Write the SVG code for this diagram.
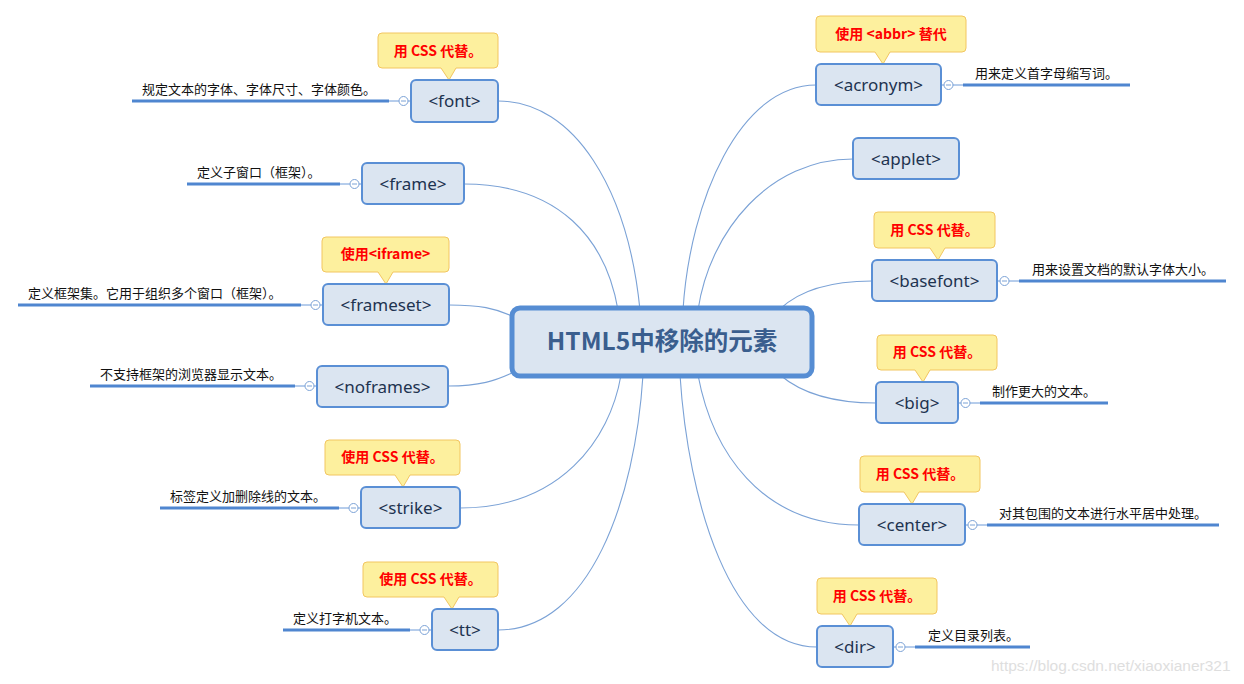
<svg xmlns="http://www.w3.org/2000/svg" width="1244" height="684" viewBox="0 0 1244 684">
<defs>
<style>
.conn{fill:none;stroke:#7ba2d6;stroke-width:1.1}
.node rect.box{fill:#dbe5f1;stroke:#5a8fd5;stroke-width:2}
.ntext{font-family:"Noto Sans","Noto Sans CJK SC",sans-serif;font-size:17px;fill:#1e3350;text-anchor:middle}
.call{fill:#fdf09e;stroke:#f2c661;stroke-width:1}
.ctext{font-family:"Noto Sans CJK SC",sans-serif;font-size:14px;font-weight:bold;fill:#ff0000;text-anchor:middle}
.lbl{font-family:"Noto Sans CJK SC",sans-serif;font-size:13px;fill:#111}
.uline{stroke:#4f86d0;stroke-width:3}
.thin{stroke:#6d9ad8;stroke-width:1}
.knob{fill:#fff;stroke:#7ba2d6;stroke-width:1}
.minus{stroke:#7ba2d6;stroke-width:1}
</style>
</defs>
<rect width="1244" height="684" fill="#ffffff"/>

<g id="connectors">
<path class="conn" d="M498,101 C575,101 628,190 640,310"/>
<path class="conn" d="M464,184 C560,184 606,240 618,310"/>
<path class="conn" d="M449,305 C480,305 495,308 514,317"/>
<path class="conn" d="M448,386 C480,386 495,381 514,372"/>
<path class="conn" d="M460,508 C560,508 610,440 621,375"/>
<path class="conn" d="M498,630 C590,630 635,500 643,375"/>
<path class="conn" d="M816,85 C740,85 690,200 683,310"/>
<path class="conn" d="M853,159 C770,159 710,230 698,310"/>
<path class="conn" d="M872,281 C830,281 800,290 780,309"/>
<path class="conn" d="M876,403 C830,403 800,392 780,375"/>
<path class="conn" d="M859,525 C760,525 712,450 698,375"/>
<path class="conn" d="M817,647 C730,647 688,500 680,375"/>
</g>

<g id="center">
<rect x="512" y="308" width="300" height="68" rx="8" fill="#dbe5f1" stroke="#568dd3" stroke-width="5"/>
<text x="662" y="350" font-family="'Noto Sans CJK SC',sans-serif" font-size="24.5" font-weight="bold" fill="#3a5e8e" text-anchor="middle">HTML5中移除的元素</text>
</g>

<g id="node-font" class="node">
<path class="call" d="M382,33 H494 Q498,33 498,37 V64 Q498,68 494,68 H456 L449,80 L441,68 H382 Q378,68 378,64 V37 Q378,33 382,33 Z"/>
<text class="ctext" x="438" y="56">用 CSS 代替。</text>
<line class="uline" x1="132" y1="101" x2="389" y2="101"/>
<line class="thin" x1="389" y1="101" x2="399" y2="101"/>
<circle class="knob" cx="403.5" cy="101" r="4.5"/>
<line class="minus" x1="401" y1="101" x2="406" y2="101"/>
<line class="thin" x1="408" y1="101" x2="411" y2="101"/>
<text class="lbl" x="142" y="94">规定文本的字体、字体尺寸、字体颜色。</text>
<rect class="box" x="411" y="80" width="87" height="42" rx="5"/>
<text class="ntext" x="454.5" y="107">&lt;font&gt;</text>
</g>

<g id="node-frame" class="node">
<line class="uline" x1="187" y1="184" x2="340" y2="184"/>
<line class="thin" x1="340" y1="184" x2="350" y2="184"/>
<circle class="knob" cx="354.5" cy="184" r="4.5"/>
<line class="minus" x1="352" y1="184" x2="357" y2="184"/>
<line class="thin" x1="359" y1="184" x2="362" y2="184"/>
<text class="lbl" x="197" y="177">定义子窗口（框架）。</text>
<rect class="box" x="362" y="163" width="102" height="41" rx="5"/>
<text class="ntext" x="413" y="190">&lt;frame&gt;</text>
</g>

<g id="node-frameset" class="node">
<path class="call" d="M326,237 H445 Q449,237 449,241 V268 Q449,272 445,272 H393 L386,284 L378,272 H326 Q322,272 322,268 V241 Q322,237 326,237 Z"/>
<text class="ctext" x="385.5" y="259">使用&lt;iframe&gt;</text>
<line class="uline" x1="18" y1="305" x2="301" y2="305"/>
<line class="thin" x1="301" y1="305" x2="311" y2="305"/>
<circle class="knob" cx="315.5" cy="305" r="4.5"/>
<line class="minus" x1="313" y1="305" x2="318" y2="305"/>
<line class="thin" x1="320" y1="305" x2="323" y2="305"/>
<text class="lbl" x="28" y="298">定义框架集。它用于组织多个窗口（框架）。</text>
<rect class="box" x="323" y="284" width="126" height="41" rx="5"/>
<text class="ntext" x="386" y="311">&lt;frameset&gt;</text>
</g>

<g id="node-noframes" class="node">
<line class="uline" x1="90" y1="386" x2="295" y2="386"/>
<line class="thin" x1="295" y1="386" x2="305" y2="386"/>
<circle class="knob" cx="309.5" cy="386" r="4.5"/>
<line class="minus" x1="307" y1="386" x2="312" y2="386"/>
<line class="thin" x1="314" y1="386" x2="317" y2="386"/>
<text class="lbl" x="100" y="379">不支持框架的浏览器显示文本。</text>
<rect class="box" x="317" y="366" width="131" height="41" rx="5"/>
<text class="ntext" x="382.5" y="393">&lt;noframes&gt;</text>
</g>

<g id="node-strike" class="node">
<path class="call" d="M329,440 H456 Q460,440 460,444 V471 Q460,475 456,475 H410 L403,487 L395,475 H329 Q325,475 325,471 V444 Q325,440 329,440 Z"/>
<text class="ctext" x="392.5" y="462">使用 CSS 代替。</text>
<line class="uline" x1="160" y1="508" x2="339" y2="508"/>
<line class="thin" x1="339" y1="508" x2="349" y2="508"/>
<circle class="knob" cx="353.5" cy="508" r="4.5"/>
<line class="minus" x1="351" y1="508" x2="356" y2="508"/>
<line class="thin" x1="358" y1="508" x2="361" y2="508"/>
<text class="lbl" x="170" y="501">标签定义加删除线的文本。</text>
<rect class="box" x="361" y="487" width="99" height="41" rx="5"/>
<text class="ntext" x="410.5" y="514">&lt;strike&gt;</text>
</g>

<g id="node-tt" class="node">
<path class="call" d="M367,562 H494 Q498,562 498,566 V593 Q498,597 494,597 H459 L452,609 L444,597 H367 Q363,597 363,593 V566 Q363,562 367,562 Z"/>
<text class="ctext" x="430.5" y="584">使用 CSS 代替。</text>
<line class="uline" x1="283" y1="630" x2="410" y2="630"/>
<line class="thin" x1="410" y1="630" x2="420" y2="630"/>
<circle class="knob" cx="424.5" cy="630" r="4.5"/>
<line class="minus" x1="422" y1="630" x2="427" y2="630"/>
<line class="thin" x1="429" y1="630" x2="432" y2="630"/>
<text class="lbl" x="293" y="623">定义打字机文本。</text>
<rect class="box" x="432" y="609" width="66" height="41" rx="5"/>
<text class="ntext" x="465" y="636">&lt;tt&gt;</text>
</g>

<g id="node-acronym" class="node">
<path class="call" d="M820,16 H962 Q966,16 966,20 V48 Q966,52 962,52 H890 L883,64 L875,52 H820 Q816,52 816,48 V20 Q816,16 820,16 Z"/>
<text class="ctext" x="891" y="39">使用 &lt;abbr&gt; 替代</text>
<line class="thin" x1="941" y1="85" x2="944" y2="85"/>
<circle class="knob" cx="948.5" cy="85" r="4.5"/>
<line class="minus" x1="946" y1="85" x2="951" y2="85"/>
<line class="thin" x1="953" y1="85" x2="963" y2="85"/>
<line class="uline" x1="963" y1="85" x2="1130" y2="85"/>
<text class="lbl" x="975" y="78">用来定义首字母缩写词。</text>
<rect class="box" x="816" y="64" width="125" height="41" rx="5"/>
<text class="ntext" x="878.5" y="91">&lt;acronym&gt;</text>
</g>

<g id="node-applet" class="node">
<rect class="box" x="853" y="138" width="106" height="41" rx="5"/>
<text class="ntext" x="906" y="165">&lt;applet&gt;</text>
</g>

<g id="node-basefont" class="node">
<path class="call" d="M878,212 H991 Q995,212 995,216 V244 Q995,248 991,248 H945 L938,260 L930,248 H878 Q874,248 874,244 V216 Q874,212 878,212 Z"/>
<text class="ctext" x="934.5" y="235">用 CSS 代替。</text>
<line class="thin" x1="997" y1="281" x2="1000" y2="281"/>
<circle class="knob" cx="1004.5" cy="281" r="4.5"/>
<line class="minus" x1="1002" y1="281" x2="1007" y2="281"/>
<line class="thin" x1="1009" y1="281" x2="1019" y2="281"/>
<line class="uline" x1="1019" y1="281" x2="1226" y2="281"/>
<text class="lbl" x="1032" y="274">用来设置文档的默认字体大小。</text>
<rect class="box" x="872" y="260" width="125" height="41" rx="5"/>
<text class="ntext" x="934.5" y="287">&lt;basefont&gt;</text>
</g>

<g id="node-big" class="node">
<path class="call" d="M881,335 H993 Q997,335 997,339 V366 Q997,370 993,370 H930 L923,382 L915,370 H881 Q877,370 877,366 V339 Q877,335 881,335 Z"/>
<text class="ctext" x="937" y="357">用 CSS 代替。</text>
<line class="thin" x1="958" y1="403" x2="961" y2="403"/>
<circle class="knob" cx="965.5" cy="403" r="4.5"/>
<line class="minus" x1="963" y1="403" x2="968" y2="403"/>
<line class="thin" x1="970" y1="403" x2="980" y2="403"/>
<line class="uline" x1="980" y1="403" x2="1108" y2="403"/>
<text class="lbl" x="992" y="396">制作更大的文本。</text>
<rect class="box" x="876" y="382" width="82" height="41" rx="5"/>
<text class="ntext" x="917" y="409">&lt;big&gt;</text>
</g>

<g id="node-center" class="node">
<path class="call" d="M864,456 H976 Q980,456 980,460 V488 Q980,492 976,492 H919 L912,504 L904,492 H864 Q860,492 860,488 V460 Q860,456 864,456 Z"/>
<text class="ctext" x="920" y="479">用 CSS 代替。</text>
<line class="thin" x1="965" y1="525" x2="968" y2="525"/>
<circle class="knob" cx="972.5" cy="525" r="4.5"/>
<line class="minus" x1="970" y1="525" x2="975" y2="525"/>
<line class="thin" x1="977" y1="525" x2="987" y2="525"/>
<line class="uline" x1="987" y1="525" x2="1219" y2="525"/>
<text class="lbl" x="999" y="518">对其包围的文本进行水平居中处理。</text>
<rect class="box" x="859" y="504" width="106" height="41" rx="5"/>
<text class="ntext" x="912" y="531">&lt;center&gt;</text>
</g>

<g id="node-dir" class="node">
<path class="call" d="M821,578 H933 Q937,578 937,582 V610 Q937,614 933,614 H857 L850,626 L842,614 H821 Q817,614 817,610 V582 Q817,578 821,578 Z"/>
<text class="ctext" x="877" y="601">用 CSS 代替。</text>
<line class="thin" x1="893" y1="647" x2="896" y2="647"/>
<circle class="knob" cx="900.5" cy="647" r="4.5"/>
<line class="minus" x1="898" y1="647" x2="903" y2="647"/>
<line class="thin" x1="905" y1="647" x2="915" y2="647"/>
<line class="uline" x1="915" y1="647" x2="1030" y2="647"/>
<text class="lbl" x="928" y="640">定义目录列表。</text>
<rect class="box" x="817" y="626" width="76" height="41" rx="5"/>
<text class="ntext" x="855" y="653">&lt;dir&gt;</text>
</g>

<text x="991" y="671" font-family="'Liberation Sans',Arial,sans-serif" font-size="15.5" fill="#dedede">https://blog.csdn.net/xiaoxianer321</text>
</svg>
